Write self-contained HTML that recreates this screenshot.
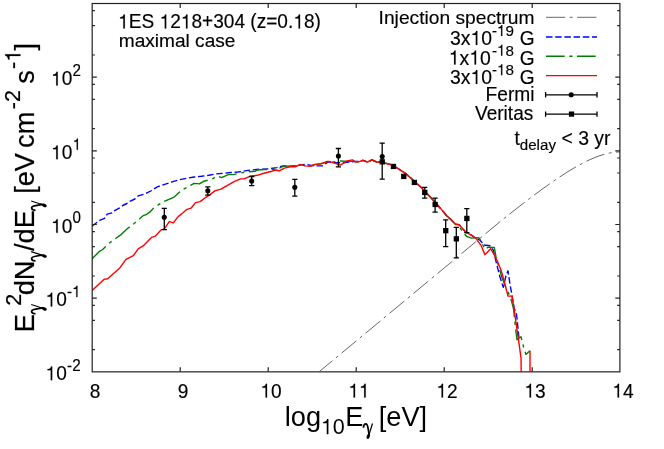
<!DOCTYPE html>
<html><head><meta charset="utf-8"><title>plot</title>
<style>
html,body{margin:0;padding:0;background:#fff;}
body{width:664px;height:449px;overflow:hidden;}
svg{display:block;will-change:transform;}
text{font-family:"Liberation Sans",sans-serif;fill:#000;stroke:#000;stroke-width:0.15px;}
.o{fill:#000;stroke:#000;stroke-width:0.15px;}
.big text,.big .o{stroke:none;}
.bigv text,.bigv .o{stroke-width:0.2px;}
</style></head><body>
<svg width="664" height="449" viewBox="0 0 664 449">
<rect width="664" height="449" fill="#fff"/>
<defs><clipPath id="c"><rect x="92" y="3.5" width="528" height="368"/></clipPath>
</defs>

<g clip-path="url(#c)" fill="none" stroke-linejoin="round">
<path d="M319.00,371.85 L500.00,221.71 L504.00,218.51 L508.00,215.34 L512.00,212.18 L516.00,209.04 L520.00,205.92 L524.00,202.83 L528.00,199.77 L532.00,196.74 L536.00,193.74 L540.00,190.79 L544.00,187.88 L548.00,185.01 L552.00,182.20 L556.00,179.45 L560.00,176.77 L564.00,174.15 L568.00,171.62 L572.00,169.18 L576.00,166.84 L580.00,164.61 L584.00,162.51 L588.00,160.54 L592.00,158.72 L596.00,157.07 L600.00,155.61 L604.00,154.36 L608.00,153.34 L612.00,152.58 L616.00,152.10 L620.00,151.94" stroke="#000" stroke-width="0.6" stroke-dasharray="19.2 4.5 3 4.45" stroke-dashoffset="1.8"/>
<path d="M92.00,226.10 L92.50,225.70 L99.60,220.40 L104.50,218.40 L107.20,214.20 L112.10,212.80 L114.70,210.60 L119.20,208.20 L122.80,205.50 L126.80,203.50 L130.30,201.10 L134.80,199.00 L138.20,195.90 L145.60,193.70 L151.70,190.50 L157.30,186.80 L164.70,184.40 L172.00,181.90 L179.40,179.70 L186.70,178.25 L194.10,176.95 L201.40,176.25 L208.80,175.25 L216.10,173.85 L223.50,173.35 L230.80,172.55 L238.20,172.05 L248.00,170.35 L259.80,169.25 L269.60,168.80 L276.90,167.60 L283.10,165.90 L290.40,166.30 L299.00,165.10 L306.40,164.40 L313.70,165.90 L322.30,165.90 L328.40,161.90 L335.70,162.70 L343.10,162.70 L350.40,161.90 L357.80,161.40 L359.20,161.70 L362.90,160.30 L367.40,162.00 L372.00,159.90 L376.50,162.00 L380.20,162.40 L385.50,163.20 L390.40,164.40 L395.30,166.80 L400.20,170.00 L406.40,174.20 L411.30,178.60 L416.20,183.00 L421.00,187.20 L426.10,192.70 L432.20,199.10 L437.10,204.50 L442.00,210.10 L446.90,216.00 L450.60,219.20 L455.50,224.10 L459.20,224.80 L462.90,229.00 L466.50,232.70 L471.40,235.10 L476.30,238.80 L480.00,240.00 L483.70,244.90 L489.80,245.70 L493.30,250.10 L495.70,260.10 L499.70,276.10 L503.30,287.30 L505.90,276.10 L508.00,270.80 L509.70,282.50 L512.00,295.50 L514.10,307.90 L516.50,314.00 L517.80,326.20 L519.00,338.50" stroke="#0000ff" stroke-width="1.4" stroke-dasharray="6.5 2.7"/>
<path d="M92.00,259.00 L92.90,258.10 L99.00,251.70 L102.70,249.50 L108.80,243.40 L114.90,239.00 L121.10,234.60 L127.20,228.70 L133.30,224.30 L139.40,218.90 L143.10,215.70 L146.80,214.30 L150.00,211.90 L154.10,207.50 L159.00,204.40 L163.90,201.50 L171.30,198.30 L174.50,196.80 L181.80,190.00 L188.00,186.80 L194.10,183.40 L199.50,183.90 L203.90,181.20 L210.60,179.50 L213.00,178.60 L217.30,176.00 L221.50,177.60 L228.40,174.60 L233.80,174.60 L239.80,173.10 L247.50,171.80 L255.30,171.20 L257.30,170.00 L264.70,169.50 L272.00,169.50 L279.40,168.10 L284.30,165.90 L290.40,166.30 L296.50,165.90 L300.20,164.60 L305.10,165.70 L310.00,166.00 L314.90,164.60 L321.00,163.70 L327.20,161.80 L333.30,161.90 L340.60,161.00 L348.00,161.40 L355.30,161.40 L359.20,161.70 L362.90,160.30 L367.40,162.00 L372.00,159.90 L376.50,162.00 L380.20,162.40 L385.50,163.20 L390.40,164.40 L395.30,166.80 L400.20,170.00 L406.40,174.20 L411.30,178.60 L416.20,183.00 L421.00,187.20 L426.10,192.70 L432.20,199.10 L437.10,204.50 L442.00,210.10 L446.90,216.00 L450.60,219.20 L455.50,224.50 L459.20,226.50 L461.60,230.20 L466.50,236.30 L471.40,238.10 L478.80,237.60 L482.50,244.20 L485.00,249.30 L488.00,247.20 L494.30,247.40 L496.20,258.00 L499.60,269.40 L501.80,277.20 L506.70,289.50 L510.40,296.80 L513.60,309.10 L515.30,326.20 L517.00,339.70 L521.00,336.80 L523.90,348.30 L525.90,354.40 L530.00,350.70" stroke="#008000" stroke-width="1.4" stroke-dasharray="18.7 4.6 3.2 4.5"/>
<path d="M92.00,290.40 L92.90,289.70 L103.90,279.40 L107.60,278.70 L119.80,267.90 L126.00,259.30 L133.30,255.70 L138.20,248.80 L143.10,245.90 L151.70,237.30 L155.40,236.10 L157.10,234.30 L161.10,229.90 L164.30,228.90 L169.30,221.70 L173.40,222.90 L178.10,216.60 L183.00,212.70 L187.00,209.30 L191.00,208.20 L195.50,202.60 L200.20,201.60 L205.10,197.80 L210.00,194.60 L214.90,190.90 L221.00,189.20 L228.40,184.80 L234.50,181.40 L240.60,178.90 L244.30,178.90 L250.40,176.20 L257.30,175.30 L264.70,173.00 L272.00,171.20 L275.70,170.00 L279.40,170.80 L284.30,168.10 L290.40,166.80 L295.30,166.80 L300.20,164.40 L305.10,165.90 L310.00,166.30 L314.90,164.40 L321.00,163.90 L327.20,161.50 L329.00,161.40 L333.60,162.90 L340.30,165.10 L347.10,160.90 L352.40,159.90 L355.40,162.00 L359.20,161.70 L362.90,160.30 L367.40,162.00 L372.00,159.90 L376.50,162.00 L380.20,162.40 L385.50,163.20 L390.40,164.40 L395.30,166.80 L400.20,170.00 L406.40,174.20 L411.30,178.60 L416.20,183.00 L421.00,187.20 L426.10,192.70 L432.20,199.10 L437.10,204.50 L442.00,210.10 L446.90,216.00 L450.60,219.20 L455.50,224.10 L459.20,224.80 L462.90,229.00 L466.50,232.70 L471.40,235.10 L476.30,238.80 L481.20,245.70 L484.90,254.70 L487.40,252.30 L490.60,248.60 L493.50,253.50 L497.20,260.80 L500.80,269.40 L503.10,277.20 L508.00,296.10 L512.10,296.10 L514.10,309.10 L516.50,326.20 L519.00,343.40 L521.00,358.10 L521.20,372.50" stroke="#ff0000" stroke-width="1.4"/>
<path d="M530.00,350.70 L530.00,372.50" stroke="#ff0000" stroke-width="1.4"/>
</g>
<g stroke="#000" stroke-width="1.3" fill="#000">
<path d="M164.3,208.4 V229.7 M161.7,208.4 h5.2 M161.7,229.7 h5.2" fill="none"/>
<circle cx="164.3" cy="217.2" r="2.55" stroke="none"/>
<path d="M207.8,186.8 V195.2 M205.2,186.8 h5.2 M205.2,195.2 h5.2" fill="none"/>
<circle cx="207.8" cy="190.8" r="2.55" stroke="none"/>
<path d="M251.7,176.5 V185.6 M249.1,176.5 h5.2 M249.1,185.6 h5.2" fill="none"/>
<circle cx="251.7" cy="181.0" r="2.55" stroke="none"/>
<path d="M294.8,179.3 V196.2 M292.2,179.3 h5.2 M292.2,196.2 h5.2" fill="none"/>
<circle cx="294.8" cy="187.2" r="2.55" stroke="none"/>
<path d="M338.4,148.5 V166.8 M335.8,148.5 h5.2 M335.8,166.8 h5.2" fill="none"/>
<circle cx="338.4" cy="156.1" r="2.55" stroke="none"/>
<path d="M382.2,143.2 V179.2 M379.6,143.2 h5.2 M379.6,179.2 h5.2" fill="none"/>
<circle cx="382.2" cy="156.5" r="2.55" stroke="none"/>
<rect x="379.6" y="159.2" width="5.3" height="5.3" stroke="none"/>
<rect x="390.8" y="163.8" width="5.3" height="5.3" stroke="none"/>
<rect x="401.1" y="173.8" width="5.3" height="5.3" stroke="none"/>
<rect x="411.7" y="179.8" width="5.3" height="5.3" stroke="none"/>
<path d="M424.8,187.3 V198.1 M422.1,187.3 h5.2 M422.1,198.1 h5.2" fill="none"/>
<rect x="422.1" y="189.8" width="5.3" height="5.3" stroke="none"/>
<path d="M435.1,198.1 V212.1 M432.5,198.1 h5.2 M432.5,212.1 h5.2" fill="none"/>
<rect x="432.5" y="201.8" width="5.3" height="5.3" stroke="none"/>
<path d="M445.7,219.9 V246.6 M443.1,219.9 h5.2 M443.1,246.6 h5.2" fill="none"/>
<rect x="443.1" y="228.0" width="5.3" height="5.3" stroke="none"/>
<path d="M456.3,227.3 V257.9 M453.7,227.3 h5.2 M453.7,257.9 h5.2" fill="none"/>
<rect x="453.7" y="236.2" width="5.3" height="5.3" stroke="none"/>
<path d="M466.8,208.7 V232.7 M464.2,208.7 h5.2 M464.2,232.7 h5.2" fill="none"/>
<rect x="464.2" y="215.8" width="5.3" height="5.3" stroke="none"/>
</g>
<g stroke="#222" stroke-width="1.2" fill="none">
<rect x="92.2" y="3.5" width="527.7" height="368.35"/>
<path d="M180.2,371.85 v-4.6 M180.2,3.5 v4.6 M268.2,371.85 v-4.6 M268.2,3.5 v4.6 M356.2,371.85 v-4.6 M356.2,3.5 v4.6 M444.2,371.85 v-4.6 M444.2,3.5 v4.6 M532.2,371.85 v-4.6 M532.2,3.5 v4.6 M92.2,349.7 h2.7 M619.9,349.7 h-2.7 M92.2,320.4 h2.7 M619.9,320.4 h-2.7 M92.2,305.3 h2.7 M619.9,305.3 h-2.7 M92.2,298.2 h4.6 M619.9,298.2 h-4.6 M92.2,276.0 h2.7 M619.9,276.0 h-2.7 M92.2,246.7 h2.7 M619.9,246.7 h-2.7 M92.2,231.6 h2.7 M619.9,231.6 h-2.7 M92.2,224.5 h4.6 M619.9,224.5 h-4.6 M92.2,202.3 h2.7 M619.9,202.3 h-2.7 M92.2,173.0 h2.7 M619.9,173.0 h-2.7 M92.2,158.0 h2.7 M619.9,158.0 h-2.7 M92.2,150.8 h4.6 M619.9,150.8 h-4.6 M92.2,128.7 h2.7 M619.9,128.7 h-2.7 M92.2,99.3 h2.7 M619.9,99.3 h-2.7 M92.2,84.3 h2.7 M619.9,84.3 h-2.7 M92.2,77.2 h4.6 M619.9,77.2 h-4.6 M92.2,55.0 h2.7 M619.9,55.0 h-2.7 M92.2,25.7 h2.7 M619.9,25.7 h-2.7 M92.2,10.6 h2.7 M619.9,10.6 h-2.7"/>
</g>
<g transform="translate(89.69,397.50) scale(1,1.010)"><text x="0.00" font-size="19.10">8</text></g>
<g transform="translate(177.69,397.50) scale(1,1.010)"><text x="0.00" font-size="19.10">9</text></g>
<g transform="translate(260.38,397.50) scale(1,1.010)"><path class="o" d="M5.16,0.00L6.69,0.00L6.69,-13.54L5.54,-13.54C5.25,-11.94 4.01,-11.04 1.95,-10.93L1.95,-9.68L5.16,-9.68Z"/><text x="10.62" font-size="19.10">0</text></g>
<g transform="translate(348.38,397.50) scale(1,1.010)"><path class="o" d="M5.16,0.00L6.69,0.00L6.69,-13.54L5.54,-13.54C5.25,-11.94 4.01,-11.04 1.95,-10.93L1.95,-9.68L5.16,-9.68Z"/><path class="o" d="M15.78,0.00L17.31,0.00L17.31,-13.54L16.16,-13.54C15.88,-11.94 14.63,-11.04 12.57,-10.93L12.57,-9.68L15.78,-9.68Z"/></g>
<g transform="translate(436.38,397.50) scale(1,1.010)"><path class="o" d="M5.16,0.00L6.69,0.00L6.69,-13.54L5.54,-13.54C5.25,-11.94 4.01,-11.04 1.95,-10.93L1.95,-9.68L5.16,-9.68Z"/><text x="10.62" font-size="19.10">2</text></g>
<g transform="translate(524.38,397.50) scale(1,1.010)"><path class="o" d="M5.16,0.00L6.69,0.00L6.69,-13.54L5.54,-13.54C5.25,-11.94 4.01,-11.04 1.95,-10.93L1.95,-9.68L5.16,-9.68Z"/><text x="10.62" font-size="19.10">3</text></g>
<g transform="translate(612.38,397.50) scale(1,1.010)"><path class="o" d="M5.16,0.00L6.69,0.00L6.69,-13.54L5.54,-13.54C5.25,-11.94 4.01,-11.04 1.95,-10.93L1.95,-9.68L5.16,-9.68Z"/><text x="10.62" font-size="19.10">4</text></g>
<g transform="translate(51.05,85.47) scale(1,1.010)"><path class="o" d="M5.16,0.00L6.69,0.00L6.69,-13.54L5.54,-13.54C5.25,-11.94 4.01,-11.04 1.95,-10.93L1.95,-9.68L5.16,-9.68Z"/><text x="10.62" font-size="19.10">0</text></g>
<g transform="translate(72.59,76.07) scale(1,1.040)"><text x="0.00" font-size="15.20">2</text></g>
<g transform="translate(51.05,159.14) scale(1,1.010)"><path class="o" d="M5.16,0.00L6.69,0.00L6.69,-13.54L5.54,-13.54C5.25,-11.94 4.01,-11.04 1.95,-10.93L1.95,-9.68L5.16,-9.68Z"/><text x="10.62" font-size="19.10">0</text></g>
<g transform="translate(72.59,149.74) scale(1,1.040)"><path class="o" d="M4.10,0.00L5.32,0.00L5.32,-10.78L4.41,-10.78C4.18,-9.50 3.19,-8.79 1.55,-8.69L1.55,-7.71L4.10,-7.71Z"/></g>
<g transform="translate(51.05,232.81) scale(1,1.010)"><path class="o" d="M5.16,0.00L6.69,0.00L6.69,-13.54L5.54,-13.54C5.25,-11.94 4.01,-11.04 1.95,-10.93L1.95,-9.68L5.16,-9.68Z"/><text x="10.62" font-size="19.10">0</text></g>
<g transform="translate(72.59,223.41) scale(1,1.040)"><text x="0.00" font-size="15.20">0</text></g>
<g transform="translate(45.55,306.48) scale(1,1.010)"><path class="o" d="M5.16,0.00L6.69,0.00L6.69,-13.54L5.54,-13.54C5.25,-11.94 4.01,-11.04 1.95,-10.93L1.95,-9.68L5.16,-9.68Z"/><text x="10.62" font-size="19.10">0</text></g>
<g transform="translate(67.09,297.08) scale(1,1.040)"><text x="0.00" font-size="15.20">-</text><path class="o" d="M9.17,0.00L10.38,0.00L10.38,-10.78L9.47,-10.78C9.24,-9.50 8.25,-8.79 6.61,-8.69L6.61,-7.71L9.17,-7.71Z"/></g>
<g transform="translate(45.55,380.15) scale(1,1.010)"><path class="o" d="M5.16,0.00L6.69,0.00L6.69,-13.54L5.54,-13.54C5.25,-11.94 4.01,-11.04 1.95,-10.93L1.95,-9.68L5.16,-9.68Z"/><text x="10.62" font-size="19.10">0</text></g>
<g transform="translate(67.09,370.75) scale(1,1.040)"><text x="0.00" font-size="15.20">-2</text></g>
<g class="big" transform="translate(284.77,425.90) scale(1,1.000)"><text x="0.00" font-size="27.20">log</text></g>
<g class="big" transform="translate(320.91,434.20) scale(1,1.000)"><path class="o" d="M5.81,0.00L7.52,0.00L7.52,-15.24L6.23,-15.24C5.91,-13.44 4.51,-12.43 2.19,-12.30L2.19,-10.90L5.81,-10.90Z"/><text x="11.96" font-size="21.50">0</text></g>
<g class="big" transform="translate(345.27,425.90) scale(1,1.040)"><text x="0.00" font-size="27.20">E</text></g>
<g transform="translate(362.9,423)"><path d="M0.5,4.8 C0.7,2 1.8,0.9 3.0,0.9 C4.2,0.9 4.7,2.6 5.1,5 L6.1,10.6" fill="none" stroke="#000" stroke-width="1.7"/><path d="M9.6,0.5 L6.2,11.3" fill="none" stroke="#000" stroke-width="1.2"/><path d="M7.0,9.2 C7.4,12.4 7.1,15.2 5.3,16.0 C3.7,16.3 3.2,14.7 3.9,13.1 C4.5,11.9 5.3,10.9 5.7,9.8 Z" fill="#000"/></g>
<g class="big" transform="translate(378.76,425.90) scale(1,1.000)"><text x="0.00" font-size="27.20">[eV]</text></g>
<g class="bigv" transform="translate(34.40,332.13) rotate(-90) scale(1,1.040)"><text x="0.00" font-size="27.20">E</text></g>
<g transform="translate(30.7,314.4) rotate(-90) scale(1.03,1)"><path d="M0.5,4.8 C0.7,2 1.8,0.9 3.0,0.9 C4.2,0.9 4.7,2.6 5.1,5 L6.1,10.6" fill="none" stroke="#000" stroke-width="1.7"/><path d="M9.6,0.5 L6.2,11.3" fill="none" stroke="#000" stroke-width="1.2"/><path d="M7.0,9.2 C7.4,12.4 7.1,15.2 5.3,16.0 C3.7,16.3 3.2,14.7 3.9,13.1 C4.5,11.9 5.3,10.9 5.7,9.8 Z" fill="#000"/></g>
<g class="bigv" transform="translate(21.40,305.68) rotate(-90) scale(1,1.000)"><text x="0.00" font-size="21.50">2</text></g>
<g class="bigv" transform="translate(34.40,295.34) rotate(-90) scale(1,1.000)"><text x="0.00" font-size="27.20">dN</text></g>
<g transform="translate(30.7,261.5) rotate(-90) scale(1.03,1)"><path d="M0.5,4.8 C0.7,2 1.8,0.9 3.0,0.9 C4.2,0.9 4.7,2.6 5.1,5 L6.1,10.6" fill="none" stroke="#000" stroke-width="1.7"/><path d="M9.6,0.5 L6.2,11.3" fill="none" stroke="#000" stroke-width="1.2"/><path d="M7.0,9.2 C7.4,12.4 7.1,15.2 5.3,16.0 C3.7,16.3 3.2,14.7 3.9,13.1 C4.5,11.9 5.3,10.9 5.7,9.8 Z" fill="#000"/></g>
<g class="bigv" transform="translate(34.40,251.00) rotate(-90) scale(1,1.000)"><text x="0.00" font-size="27.20">/dE</text></g>
<g transform="translate(30.7,210.9) rotate(-90) scale(1.03,1)"><path d="M0.5,4.8 C0.7,2 1.8,0.9 3.0,0.9 C4.2,0.9 4.7,2.6 5.1,5 L6.1,10.6" fill="none" stroke="#000" stroke-width="1.7"/><path d="M9.6,0.5 L6.2,11.3" fill="none" stroke="#000" stroke-width="1.2"/><path d="M7.0,9.2 C7.4,12.4 7.1,15.2 5.3,16.0 C3.7,16.3 3.2,14.7 3.9,13.1 C4.5,11.9 5.3,10.9 5.7,9.8 Z" fill="#000"/></g>
<g class="bigv" transform="translate(34.40,193.84) rotate(-90) scale(1,1.000)"><text x="0.00" font-size="27.20">[eV</text></g>
<g class="bigv" transform="translate(34.40,147.96) rotate(-90) scale(1,1.000)"><text x="0.00" font-size="27.20">cm</text></g>
<g class="bigv" transform="translate(20.40,109.16) rotate(-90) scale(1,1.000)"><text x="0.00" font-size="21.50">-2</text></g>
<g class="bigv" transform="translate(34.40,83.86) rotate(-90) scale(1,1.000)"><text x="0.00" font-size="27.20">s</text></g>
<g class="bigv" transform="translate(20.40,68.96) rotate(-90) scale(1,1.000)"><text x="0.00" font-size="21.50">-</text><path class="o" d="M12.96,0.00L14.68,0.00L14.68,-15.24L13.39,-15.24C13.07,-13.44 11.67,-12.43 9.35,-12.30L9.35,-10.90L12.96,-10.90Z"/></g>
<g class="bigv" transform="translate(34.40,50.51) rotate(-90) scale(1,1.000)"><text x="0.00" font-size="27.20">]</text></g>
<g transform="translate(118.15,28.40) scale(1,1.030)"><path class="o" d="M5.16,0.00L6.69,0.00L6.69,-13.54L5.54,-13.54C5.25,-11.94 4.01,-11.04 1.95,-10.93L1.95,-9.68L5.16,-9.68Z"/><text x="10.62" font-size="19.10">ES </text><path class="o" d="M46.57,0.00L48.09,0.00L48.09,-13.54L46.95,-13.54C46.66,-11.94 45.42,-11.04 43.36,-10.93L43.36,-9.68L46.57,-9.68Z"/><text x="52.03" font-size="19.10">2</text><path class="o" d="M67.81,0.00L69.34,0.00L69.34,-13.54L68.19,-13.54C67.91,-11.94 66.66,-11.04 64.60,-10.93L64.60,-9.68L67.81,-9.68Z"/><text x="73.28" font-size="19.10">8+304 (z=0.</text><path class="o" d="M180.38,0.00L181.91,0.00L181.91,-13.54L180.76,-13.54C180.47,-11.94 179.23,-11.04 177.17,-10.93L177.17,-9.68L180.38,-9.68Z"/><text x="185.84" font-size="19.10">8)</text></g>
<g transform="translate(118.73,46.60) scale(1,1.000)"><text x="0.00" font-size="19.10">maximal case</text></g>
<g transform="translate(378.60,24.30) scale(1,1.000)"><text x="0.00" font-size="19.22">Injection spectrum</text></g>
<g transform="translate(450.06,44.90) scale(1,1.010)"><text x="0.00" font-size="19.40">3x</text><path class="o" d="M25.73,0.00L27.28,0.00L27.28,-13.75L26.12,-13.75C25.82,-12.12 24.56,-11.21 22.47,-11.10L22.47,-9.84L25.73,-9.84Z"/><text x="31.28" font-size="19.40">0</text></g>
<g transform="translate(491.92,36.10) scale(1,1.020)"><text x="0.00" font-size="15.20">-</text><path class="o" d="M9.17,0.00L10.38,0.00L10.38,-10.78L9.47,-10.78C9.24,-9.50 8.25,-8.79 6.61,-8.69L6.61,-7.71L9.17,-7.71Z"/><text x="13.52" font-size="15.20">9</text></g>
<g transform="translate(519.87,44.90) scale(1,1.010)"><text x="0.00" font-size="19.10">G</text></g>
<g transform="translate(448.82,64.50) scale(1,1.010)"><path class="o" d="M5.24,0.00L6.79,0.00L6.79,-13.75L5.63,-13.75C5.33,-12.12 4.07,-11.21 1.98,-11.10L1.98,-9.84L5.24,-9.84Z"/><text x="10.79" font-size="19.40">x</text><path class="o" d="M25.73,0.00L27.28,0.00L27.28,-13.75L26.12,-13.75C25.82,-12.12 24.56,-11.21 22.47,-11.10L22.47,-9.84L25.73,-9.84Z"/><text x="31.28" font-size="19.40">0</text></g>
<g transform="translate(491.92,55.70) scale(1,1.020)"><text x="0.00" font-size="15.20">-</text><path class="o" d="M9.17,0.00L10.38,0.00L10.38,-10.78L9.47,-10.78C9.24,-9.50 8.25,-8.79 6.61,-8.69L6.61,-7.71L9.17,-7.71Z"/><text x="13.52" font-size="15.20">8</text></g>
<g transform="translate(519.87,64.50) scale(1,1.010)"><text x="0.00" font-size="19.10">G</text></g>
<g transform="translate(450.06,84.00) scale(1,1.010)"><text x="0.00" font-size="19.40">3x</text><path class="o" d="M25.73,0.00L27.28,0.00L27.28,-13.75L26.12,-13.75C25.82,-12.12 24.56,-11.21 22.47,-11.10L22.47,-9.84L25.73,-9.84Z"/><text x="31.28" font-size="19.40">0</text></g>
<g transform="translate(491.92,75.20) scale(1,1.020)"><text x="0.00" font-size="15.20">-</text><path class="o" d="M9.17,0.00L10.38,0.00L10.38,-10.78L9.47,-10.78C9.24,-9.50 8.25,-8.79 6.61,-8.69L6.61,-7.71L9.17,-7.71Z"/><text x="13.52" font-size="15.20">8</text></g>
<g transform="translate(519.87,84.00) scale(1,1.010)"><text x="0.00" font-size="19.10">G</text></g>
<g transform="translate(485.53,100.70) scale(1,1.010)"><text x="0.00" font-size="19.20">Fermi</text></g>
<g transform="translate(474.95,120.30) scale(1,1.010)"><text x="0.00" font-size="19.10">Veritas</text></g>
<g fill="none">
<path d="M546,17.3 H597" stroke="#000" stroke-width="0.6" stroke-dasharray="19.2 4.5 3 4.45"/>
<path d="M546,37.0 H597" stroke="#0000ff" stroke-width="1.4" stroke-dasharray="6.5 2.7"/>
<path d="M546,56.2 H597" stroke="#008000" stroke-width="1.4" stroke-dasharray="18.7 4.6 3.2 4.5"/>
<path d="M546,75.6 H597" stroke="#ff0000" stroke-width="1.4"/>
<path d="M545.6,94.8 H597 M545.6,92.1 v5.4 M597,92.1 v5.4" stroke="#000" stroke-width="1.3"/>
<path d="M545.6,114.1 H597 M545.6,111.4 v5.4 M597,111.4 v5.4" stroke="#000" stroke-width="1.3"/>
</g>
<circle cx="571.2" cy="94.8" r="2.55"/>
<rect x="568.9" y="111.50" width="5.2" height="5.2"/>
<g transform="translate(514.41,144.60) scale(1,1.010)"><text x="0.00" font-size="19.10">t</text></g>
<g transform="translate(519.76,150.40) scale(1,1.010)"><text x="0.00" font-size="15.15">delay</text></g>
<g transform="translate(561.46,144.60) scale(1,1.010)"><text x="0.00" font-size="19.40">&lt; 3 yr</text></g>
</svg></body></html>
